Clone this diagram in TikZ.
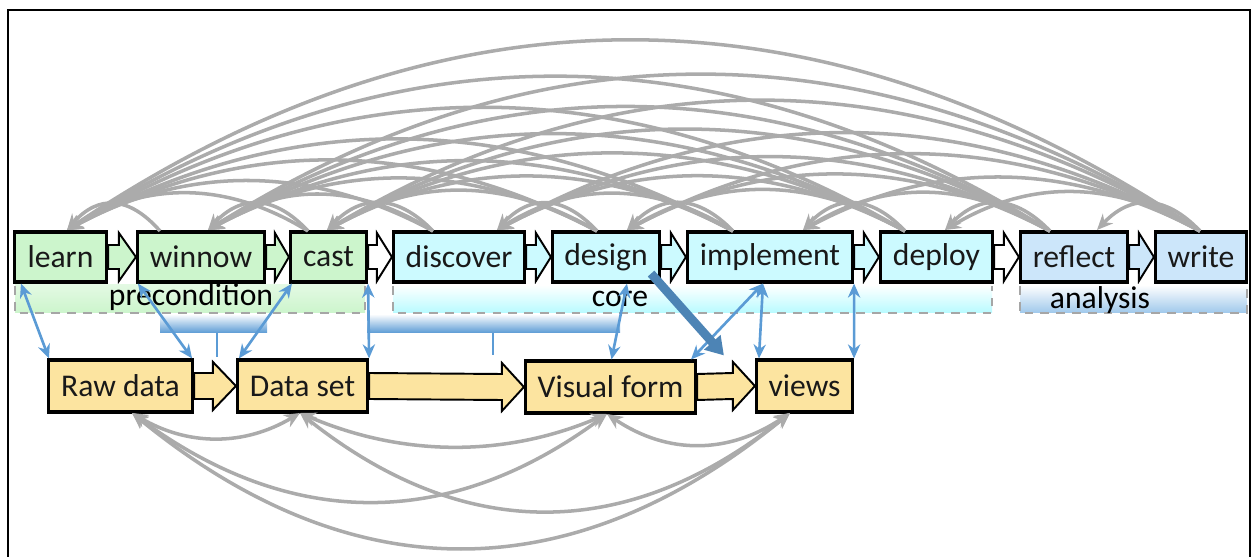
\documentclass[tikz,border=0pt]{standalone}
\usepackage{fontspec}
\setmainfont{Carlito}
\usetikzlibrary{arrows.meta,calc}
\definecolor{precol}{HTML}{CCF5CC}
\definecolor{corecol}{HTML}{CCFAFF}
\definecolor{anacol}{HTML}{CCE6FA}
\definecolor{datacol}{HTML}{FCE4A0}
\definecolor{linkblue}{HTML}{5B9BD5}
\definecolor{arcgray}{HTML}{ABABAB}

% block arrow between two boxes: from, to, fill, head length, half body
\newcommand{\flowarrow}[5]{%
  \draw[flow, fill=#3] ($(#1.east)+(0,-#5)$) -- ($(#2.west)+(-#4,-#5)$)
    -- ($(#2.west)+(-#4,-24)$) -- (#2.west) -- ($(#2.west)+(-#4,24)$)
    -- ($(#2.west)+(-#4,#5)$) -- ($(#1.east)+(0,#5)$) -- cycle;}

\begin{document}
\begin{tikzpicture}[x=0.02cm, y=-0.02cm, font=\fontsize{18}{20}\selectfont,
  stage/.style={draw, line width=1.8pt, minimum height=1cm, inner sep=0pt, text=black!90},
  datastage/.style={stage, fill=datacol, minimum height=1.04cm},
  flow/.style={draw, line width=1.1pt, line join=miter},
  feedback/.style={draw=arcgray, line width=2pt, -{Stealth[length=9pt,width=8pt]}},
  bothways/.style={draw=arcgray, line width=2pt, {Stealth[length=9pt,width=8pt]}-{Stealth[length=9pt,width=8pt]}},
  crosslink/.style={draw=linkblue, line width=1.5pt, {Stealth[length=8pt,width=7pt]}-{Stealth[length=8pt,width=7pt]}},
  bandedge/.style={draw=gray!70, line width=1.1pt, dash pattern=on 5pt off 4pt}]
  \useasboundingbox (0,0) rectangle (1259,557);
  \draw[line width=1pt] (8,557) -- (8,10) -- (1250,10) -- (1250,557);

  % stages
  \node[stage, fill=precol, minimum width=1.84cm] (learn) at (60.5,257) {learn};
  \node[stage, fill=precol, minimum width=2.54cm] (winnow) at (201,257) {winnow};
  \node[stage, fill=precol, minimum width=1.52cm] (cast) at (328.5,257) {cast};
  \node[stage, fill=corecol, minimum width=2.62cm] (discover) at (459,257) {discover};
  \node[stage, fill=corecol, minimum width=2.14cm] (design) at (606,257) {design};
  \node[stage, fill=corecol, minimum width=3.30cm] (implement) at (770,257) {implement};
  \node[stage, fill=corecol, minimum width=2.24cm] (deploy) at (936.5,257) {deploy};
  \node[stage, fill=anacol, minimum width=2.14cm] (reflect) at (1074,257) {reflect};
  \node[stage, fill=anacol, minimum width=1.82cm] (write) at (1201,257) {write};

  % data
  \node[datastage, minimum width=2.88cm] (raw) at (120.5,386) {Raw data};
  \node[datastage, minimum width=2.60cm] (dset) at (302.5,386) {Data set};
  \node[datastage, minimum width=3.40cm] (visual) at (610.5,387) {Visual form};
  \node[datastage, minimum width=1.92cm] (views) at (804.5,386) {views};

  \flowarrow{learn}{winnow}{precol}{17}{12}
  \flowarrow{winnow}{cast}{precol}{14}{12}
  \flowarrow{cast}{discover}{white}{15}{12}
  \flowarrow{discover}{design}{corecol}{15}{12}
  \flowarrow{design}{implement}{corecol}{15}{12}
  \flowarrow{implement}{deploy}{corecol}{15}{12}
  \flowarrow{deploy}{reflect}{white}{15}{12}
  \flowarrow{reflect}{write}{anacol}{15}{12}
  \flowarrow{raw}{dset}{datacol}{23}{13}
  \flowarrow{dset}{visual}{datacol}{22}{13}
  \flowarrow{visual}{views}{datacol}{22}{13}

  % groups
  \shade[top color=precol!55!white, bottom color=precol] (15,285) rectangle (365,313);
  \shade[top color=white, bottom color=corecol!90!cyan] (393,285) rectangle (992,313);
  \shade[top color=white, bottom color=anacol!60!linkblue] (1020,285) rectangle (1247,313);
  \draw[bandedge] (15,286) -- (15,313) -- (365,313) -- (365,286);
  \draw[bandedge] (393,286) -- (393,313) -- (992,313) -- (992,286);
  \draw[bandedge] (1020,286) -- (1020,313) -- (1247,313) -- (1247,286);
  \node (precondition) at (191,297) {precondition};
  \node (core) at (620,299) {core};
  \node (analysis) at (1100,300) {analysis};

  % braces
  \shade[top color=linkblue!10, bottom color=linkblue] (160,316) rectangle (267,333);
  \shade[top color=linkblue!10, bottom color=linkblue] (367,316) rectangle (620,333);
  \draw[linkblue, line width=1.5pt] (217,333) -- (217,357);
  \draw[linkblue, line width=1.5pt] (493,333) -- (493,355);

  % links between stages and data
  \draw[crosslink] ($(learn.south west)+(8,0)$) -- ($(raw.north west)+(2,0)$);
  \draw[crosslink] ($(winnow.south west)+(2,0)$) -- ($(raw.north east)+(-2,0)$);
  \draw[crosslink] ($(cast.south west)+(3,0)$) -- ($(dset.north west)+(3,0)$);
  \draw[crosslink] (cast.south east) -- (dset.north east);
  \draw[crosslink] ($(design.south)+(21,0)$) -- ($(visual.north)+(1,0)$);
  \draw[crosslink] ($(implement.south)+(-7,0)$) -- ($(visual.north east)+(-6,0)$);
  \draw[crosslink] ($(implement.south)+(-7,0)$) -- ($(views.north west)+(4,0)$);
  \draw[crosslink] (implement.south east) -- (views.north east);
  \coordinate (push-start) at ($(design.south east)+(-10,-10)$);
  \coordinate (push-end) at ($(views.north west)+(-31,-3)$);
  \draw[line width=5pt, draw=linkblue!85!black, -{Triangle[length=10pt,width=12pt]}] (push-start) -- (push-end);

  % ports on top of the stages
  \foreach \n/\px in {learn/67, winnow/208, cast/327, discover/497, design/627,
                      implement/803, deploy/945, reflect/1097}
    \coordinate (\n-in) at (\px,230);
  \foreach \n/\px in {winnow/160, cast/308, discover/433, design/597,
                      implement/733, deploy/905, reflect/1050, write/1200}
    \coordinate (\n-out) at (\px,231);

  % every stage goes back to every earlier one
  \foreach \s [count=\j] in {winnow,cast,discover,design,implement,deploy,reflect,write}
    \foreach \d [count=\i] in {learn,winnow,cast,discover,design,implement,deploy,reflect}
      {\ifnum\i>\j\relax\else
        \draw[feedback] let \p1=(\s-out), \p2=(\d-in), \n1={\x1-\x2},
          \n2={4/3*(12.5pt+0.04*\n1+1.68pt*(\n1/100pt)*(\n1/100pt))} in
          (\p1) .. controls ({\x1-\n1/3},{\y1+\n2}) and ({\x2+\n1/3},{\y2+\n2}) .. (\p2);
      \fi}

  % ports below the data
  \coordinate (raw-port) at (132,413);
  \coordinate (dset-port) at (300,413);
  \coordinate (visual-port) at (607,414);
  \coordinate (views-port) at (790,413);
  \foreach \a/\b/\h in {raw/dset/25, dset/visual/33, visual/views/31,
                        raw/visual/88, dset/views/98, raw/views/135}
    \draw[bothways] let \p1=(\a-port), \p2=(\b-port), \n1={\x2-\x1},
      \n2={\h*4/3*0.5669pt} in
      (\p1) .. controls ({\x1+\n1/3},{\y1-\n2}) and ({\x2-\n1/3},{\y2-\n2}) .. (\p2);
\end{tikzpicture}
\end{document}
